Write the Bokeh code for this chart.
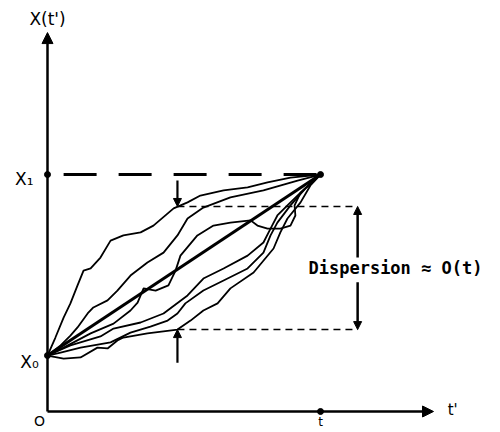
from bokeh.plotting import figure
from bokeh.models import Arrow, NormalHead, Label, Range1d
from bokeh.embed import file_html
from bokeh.resources import INLINE

# Key values (t' in units of t, X in same units)
x0_val = 0.205
x1_val = 0.868
t_end = 1.0
disp_low = 0.300
disp_high = 0.751
marker_t = 0.476
disp_t = 1.136
axis_x_end = 1.414
axis_y_end = 1.388

# Sample trajectories X(t') from X0 to X1
a_t = [0, .029, .059, .084, .110, .132, .158, .194, .231, .278, .341, .388, .462, .513, .560, .645, .733, .806, .890, 1.0]
a_x = [.205, .271, .344, .396, .462, .516, .524, .564, .626, .645, .656, .681, .744, .766, .791, .810, .821, .839, .857, .868]

b_t = [0, .048, .084, .110, .147, .168, .220, .256, .304, .366, .425, .476, .513, .571, .670, .791, .916, 1.0]
b_x = [.205, .242, .278, .308, .359, .381, .407, .443, .498, .546, .582, .645, .707, .747, .784, .810, .846, .868]

c_t = [0, .059, .158, .242, .304, .330, .352, .396, .443, .469, .487, .549, .608, .670, .744, .769, .806, .853, .890, .908, .905, .927, 1.0]
c_x = [.205, .234, .286, .322, .370, .399, .451, .443, .462, .516, .571, .645, .681, .692, .700, .681, .670, .670, .681, .718, .755, .802, .868]

d_t = [0, .084, .194, .242, .341, .425, .513, .571, .645, .733, .791, .817, .842, .879, .927, 1.0]
d_x = [.205, .242, .275, .304, .326, .359, .425, .487, .524, .571, .619, .670, .718, .755, .802, .868]

f_t = [0, .048, .121, .231, .304, .377, .440, .476, .505, .571, .645, .733, .791, .817, .842, .890, .945, 1.0]
f_x = [.205, .216, .234, .253, .289, .311, .333, .359, .396, .443, .480, .524, .582, .645, .692, .755, .817, .868]

e_t = [0, .059, .121, .183, .220, .256, .278, .366, .476, .524, .571, .623, .670, .755, .828, .853, .879, .927, .963, 1.0]
e_x = [.205, .194, .198, .234, .231, .260, .271, .286, .300, .333, .370, .396, .451, .509, .597, .656, .707, .766, .828, .868]

p = figure(width=484, height=430, output_backend="svg", toolbar_location=None,
           x_range=Range1d(-0.17216, 1.60073), y_range=Range1d(-0.06960, 1.50549),
           min_border=0)
p.axis.visible = False
p.grid.visible = False
p.outline_line_color = None
p.background_fill_color = "white"

# axes with arrows
p.add_layout(Arrow(end=NormalHead(size=11, fill_color="black", line_color="black"),
                   x_start=0, y_start=0, x_end=0, y_end=axis_y_end,
                   line_width=2.5, line_color="black"))
p.add_layout(Arrow(end=NormalHead(size=11, fill_color="black", line_color="black"),
                   x_start=0, y_start=0, x_end=axis_x_end, y_end=0,
                   line_width=2.5, line_color="black"))

# X1 dashed level
p.line([0.059, t_end], [x1_val, x1_val], line_width=3, line_color="black", line_dash="33 22")

# dispersion bounds
p.line([marker_t, disp_t], [disp_high, disp_high], line_width=1.5, line_color="black", line_dash="7 5")
p.line([marker_t, disp_t], [disp_low, disp_low], line_width=1.5, line_color="black", line_dash="7 5")

# trajectories
for tt, xx in [(a_t, a_x), (b_t, b_x), (c_t, c_x), (d_t, d_x), (f_t, f_x), (e_t, e_x)]:
    p.line(tt, xx, line_width=1.8, line_color="black", line_join="round")

# mean straight path
p.line([0, t_end], [x0_val, x1_val], line_width=3, line_color="black")

# marker arrows
head = lambda: NormalHead(size=8, fill_color="black", line_color="black")
p.add_layout(Arrow(end=head(), x_start=marker_t, y_start=0.846, x_end=marker_t, y_end=disp_high,
                   line_width=2.2, line_color="black"))
p.add_layout(Arrow(end=head(), x_start=marker_t, y_start=0.179, x_end=marker_t, y_end=disp_low,
                   line_width=2.2, line_color="black"))
p.add_layout(Arrow(end=head(), x_start=disp_t, y_start=0.564, x_end=disp_t, y_end=disp_high,
                   line_width=2.5, line_color="black"))
p.add_layout(Arrow(end=head(), x_start=disp_t, y_start=0.473, x_end=disp_t, y_end=disp_low,
                   line_width=2.5, line_color="black"))

# dots
p.scatter([0, 0, t_end, t_end], [x1_val, x0_val, 0, x1_val], size=6, color="black")

font = "DejaVu Sans"
def lab(x, y, text, size="15px", align="center", base="middle", f=font, style="normal"):
    p.add_layout(Label(x=x, y=y, text=text, text_font=f, text_font_size=size,
                       text_align=align, text_baseline=base, text_color="black",
                       text_font_style=style))

lab(0.0, 1.436, "X(t')", size="17px")
lab(-0.085, 0.853, "X\u2081", size="17px")
lab(-0.066, 0.183, "X\u2080", size="17px")
lab(-0.029, -0.036, "O", size="14px")
lab(t_end, -0.040, "t", size="12px")
lab(1.484, 0.004, "t'", size="15px")
lab(0.956, 0.524, "Dispersion \u2248 O(t)", size="17px", align="left",
    f="DejaVu Sans Mono", style="bold")

open("out.html", "w").write(file_html(p, INLINE))
